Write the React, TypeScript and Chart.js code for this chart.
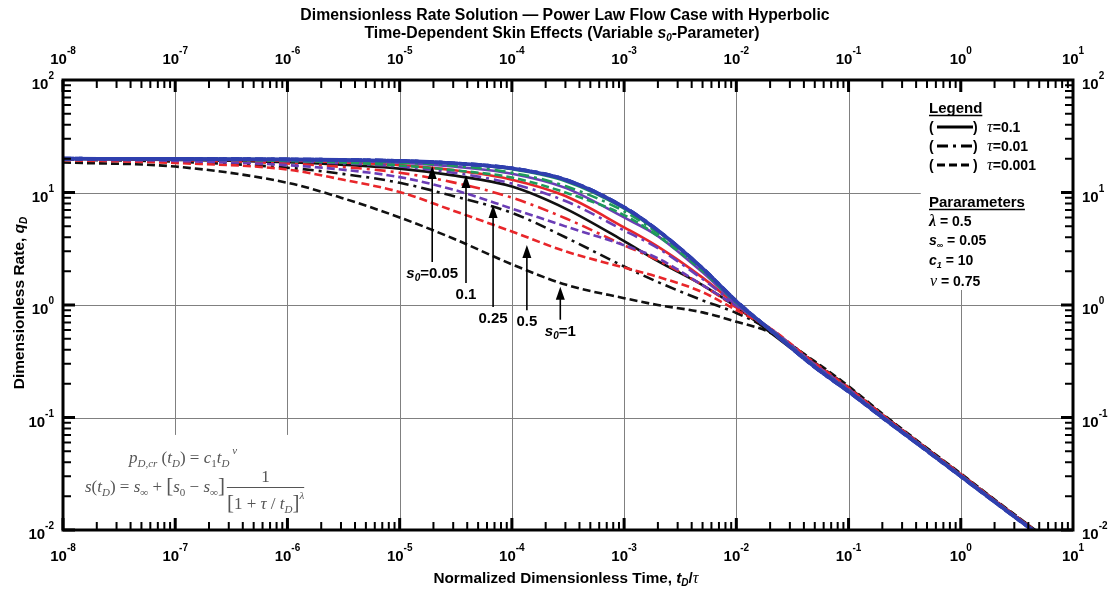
import React, { useEffect, useRef } from 'react';
import { Chart, registerables } from 'chart.js';
Chart.register(...registerables);

// ---------------- data ----------------
const times = [1e-8, 1e-7, 1e-6, 3e-6, 1e-5, 3e-5, 1e-4, 3e-4, 1e-3, 2e-3, 5e-3, 1e-2, 2e-2, 5e-2, 1e-1, 2e-1, 5e-1, 1, 2, 5];

// s0 = 0.05 (= s_inf): the three tau curves coincide
const qS005 = [20.0, 19.9, 19.7, 19.5, 19.1, 18.2, 16.4, 13.0, 7.4, 4.6, 2.12, 1.08, 0.60, 0.28, 0.170, 0.100, 0.0505, 0.0300, 0.0178, 0.0090];
// s0 = 0.1
const qS01Tau01 = [20.0, 19.9, 19.7, 19.5, 19.1, 18.1, 16.1, 12.6, 7.2, 4.5, 2.1, 1.07, 0.60, 0.282, 0.171, 0.1004, 0.0507, 0.0301, 0.0178, 0.0090];
const qS01Tau001 = [19.95, 19.9, 19.5, 19.1, 18.5, 17.3, 15.0, 11.4, 6.8, 4.35, 2.07, 1.06, 0.60, 0.284, 0.172, 0.1008, 0.0508, 0.0302, 0.0179, 0.0090];
const qS01Tau0001 = [19.9, 19.7, 19.1, 18.5, 17.4, 15.8, 13.6, 10.0, 6.3, 4.1, 2.0, 1.05, 0.61, 0.285, 0.173, 0.1012, 0.051, 0.0303, 0.0179, 0.0091];
// s0 = 0.25
const qS025Tau01 = [20.0, 19.9, 19.5, 19.1, 18.4, 17.0, 14.7, 11.0, 6.0, 4.1, 1.95, 1.03, 0.60, 0.285, 0.173, 0.1012, 0.051, 0.0303, 0.0179, 0.0091];
const qS025Tau001 = [19.9, 19.8, 19.0, 18.2, 17.0, 15.0, 12.0, 8.4, 4.6, 3.2, 1.7, 1.0, 0.61, 0.29, 0.176, 0.1024, 0.0514, 0.0305, 0.0181, 0.0091];
const qS025Tau0001 = [19.7, 19.1, 17.5, 16.0, 13.7, 10.6, 7.2, 5.0, 3.4, 2.6, 1.5, 0.98, 0.62, 0.296, 0.179, 0.1036, 0.0519, 0.0308, 0.0182, 0.0092];
// s0 = 0.5
const qS05Tau01 = [20.0, 19.7, 19.2, 18.6, 17.5, 15.8, 13.0, 9.3, 4.9, 3.3, 1.75, 1.0, 0.60, 0.29, 0.176, 0.1024, 0.0514, 0.0305, 0.0181, 0.0091];
const qS05Tau001 = [19.8, 19.4, 18.1, 16.9, 15.0, 12.3, 9.0, 5.9, 3.4, 2.5, 1.5, 0.95, 0.62, 0.298, 0.18, 0.104, 0.052, 0.0309, 0.0183, 0.0092];
const qS05Tau0001 = [19.4, 18.3, 16.0, 13.1, 10.1, 6.9, 4.5, 3.0, 2.15, 1.78, 1.3, 0.9, 0.62, 0.305, 0.184, 0.1056, 0.0526, 0.0313, 0.0184, 0.0093];
// s0 = 1
const qS1Tau01 = [19.9, 19.5, 18.6, 17.7, 16.3, 14.2, 11.3, 7.2, 3.7, 2.45, 1.5, 0.96, 0.57, 0.287, 0.174, 0.1016, 0.0511, 0.0304, 0.018, 0.0091];
const qS1Tau001 = [19.6, 18.8, 16.6, 14.7, 12.2, 9.3, 6.6, 4.0, 2.2, 1.6, 1.1, 0.85, 0.6, 0.308, 0.186, 0.1064, 0.0529, 0.0314, 0.0185, 0.0093];
const qS1Tau0001 = [18.5, 17.0, 12.2, 9.0, 6.0, 3.9, 2.3, 1.52, 1.15, 1.0, 0.86, 0.71, 0.57, 0.315, 0.19, 0.108, 0.0535, 0.0318, 0.0187, 0.0094];

const xDecades = [-8, -7, -6, -5, -4, -3, -2, -1, 0, 1];
const yDecades = [-2, -1, 0, 1, 2];

const tauLabels = ['0.1', '0.01', '0.001'];
const paramLines = ['0.5', '0.05', '10', '0.75'];

// s0 annotation arrows (x, tip value, base value)
const arrowLabels = ['0.05', '0.1', '0.25', '0.5', '1'];
const arrowX = [1.95e-5, 3.9e-5, 6.8e-5, 1.36e-4, 2.7e-4];
const arrowTip = [17.2, 14.3, 7.74, 3.41, 1.45];
const arrowBase = [2.41, 1.57, 0.96, 0.9, 0.74];

// ---------------- styles ----------------
const SANS = '"Liberation Sans", Arial, Helvetica, sans-serif';
const SERIF = '"Liberation Serif", "DejaVu Serif", "Times New Roman", serif';
const COLORS = { blue: '#2f3fae', green: '#1e9a5a', purple: '#6a3db6', red: '#e8262a', black: '#111111' };
const DASHES: number[][] = [[], [11, 5, 3, 5], [8, 4]];

type Run = { t: string; font: string; dy?: number; color?: string };

function runsWidth(ctx: CanvasRenderingContext2D, runs: Run[]) {
  let w = 0;
  for (const r of runs) { ctx.font = r.font; w += ctx.measureText(r.t).width; }
  return w;
}
function drawRuns(ctx: CanvasRenderingContext2D, runs: Run[], x: number, y: number, align: 'left' | 'center' | 'right' = 'left', color = '#000') {
  ctx.save();
  ctx.textBaseline = 'alphabetic';
  ctx.textAlign = 'left';
  const total = runsWidth(ctx, runs);
  let cx = align === 'left' ? x : align === 'center' ? x - total / 2 : x - total;
  for (const r of runs) {
    ctx.font = r.font;
    ctx.fillStyle = r.color || color;
    ctx.fillText(r.t, cx, y + (r.dy || 0));
    cx += ctx.measureText(r.t).width;
  }
  ctx.restore();
  return total;
}

const B14 = `bold 14px ${SANS}`;
const BI14 = `bold italic 14px ${SANS}`;
const BI9 = `bold italic 9px ${SANS}`;
const B15 = `bold 15px ${SANS}`;
const BI15 = `bold italic 15px ${SANS}`;
const BI10 = `bold italic 10px ${SANS}`;
const T16 = `bold 15.8px ${SANS}`;
const TI16 = `bold italic 15.8px ${SANS}`;

function pow10(exp: number): Run[] {
  return [{ t: '10', font: `bold 15px ${SANS}` }, { t: String(exp), font: `bold 10px ${SANS}`, dy: -10 }];
}

const decor = {
  id: 'decor',
  beforeDatasetsDraw(chart: any) {
    const { ctx, chartArea: a, scales } = chart;
    const xs = scales.x, ys = scales.y;
    ctx.save();
    ctx.strokeStyle = '#808080';
    ctx.lineWidth = 1;
    const vGrid = [
      { v: 1e-7, to: 0.07 }, { v: 1e-6, to: 0.07 }, { v: 1e-5 }, { v: 1e-4 }, { v: 1e-3 },
      { v: 1e-2 }, { v: 1e-1 }, { v: 1, from: 1.36 },
    ];
    for (const g of vGrid as any[]) {
      const px = Math.round(xs.getPixelForValue(g.v)) + 0.5;
      const y0 = g.from ? ys.getPixelForValue(g.from) : a.top;
      const y1 = g.to ? ys.getPixelForValue(g.to) : a.bottom;
      ctx.beginPath(); ctx.moveTo(px, y0); ctx.lineTo(px, y1); ctx.stroke();
    }
    const hGrid = [{ v: 10, to: 0.44 }, { v: 1 }, { v: 0.1 }];
    for (const g of hGrid as any[]) {
      const py = Math.round(ys.getPixelForValue(g.v)) + 0.5;
      const x1 = g.to ? xs.getPixelForValue(g.to) : a.right;
      ctx.beginPath(); ctx.moveTo(a.left, py); ctx.lineTo(x1, py); ctx.stroke();
    }
    ctx.restore();
  },
  afterDatasetsDraw(chart: any) {
    const { ctx, chartArea: a, scales } = chart;
    const xs = scales.x, ys = scales.y;
    ctx.save();
    // frame
    ctx.strokeStyle = '#000';
    ctx.lineWidth = 3;
    ctx.strokeRect(a.left, a.top, a.right - a.left, a.bottom - a.top);
    // ticks
    ctx.lineCap = 'butt';
    for (let d = -8; d <= 0; d++) {
      for (let m = 1; m <= 9; m++) {
        const v = m * Math.pow(10, d);
        const px = xs.getPixelForValue(v);
        const major = m === 1;
        ctx.lineWidth = major ? 3 : 2;
        const len = major ? 12 : 8;
        ctx.beginPath();
        ctx.moveTo(px, a.bottom); ctx.lineTo(px, a.bottom - len);
        ctx.moveTo(px, a.top); ctx.lineTo(px, a.top + len);
        ctx.stroke();
      }
    }
    for (let d = -2; d <= 1; d++) {
      for (let m = 1; m <= 9; m++) {
        const v = m * Math.pow(10, d);
        const py = ys.getPixelForValue(v);
        const major = m === 1;
        ctx.lineWidth = major ? 3 : 2;
        const len = major ? 12 : 8;
        ctx.beginPath();
        ctx.moveTo(a.left, py); ctx.lineTo(a.left + len, py);
        ctx.moveTo(a.right, py); ctx.lineTo(a.right - len, py);
        ctx.stroke();
      }
    }
    // tick labels
    for (const d of xDecades) {
      const px = xs.getPixelForValue(Math.pow(10, d));
      drawRuns(ctx, pow10(d), px, 561, 'center');
      drawRuns(ctx, pow10(d), px, 64, 'center');
    }
    for (const d of yDecades) {
      const py = ys.getPixelForValue(Math.pow(10, d));
      drawRuns(ctx, pow10(d), a.left - 9, py + 9, 'right');
      drawRuns(ctx, pow10(d), a.right + 9, py + 9, 'left');
    }
    // title
    drawRuns(ctx, [{ t: 'Dimensionless Rate Solution \u2014 Power Law Flow Case with Hyperbolic', font: T16 }], 565, 20, 'center');
    drawRuns(ctx, [
      { t: 'Time-Dependent Skin Effects (Variable ', font: T16 },
      { t: 's', font: TI16 }, { t: '0', font: BI10, dy: 3 },
      { t: '-Parameter)', font: T16 },
    ], 562, 38, 'center');
    // axis titles
    drawRuns(ctx, [
      { t: 'Normalized Dimensionless Time, ', font: `bold 15.3px ${SANS}` },
      { t: 't', font: `bold italic 15.3px ${SANS}` }, { t: 'D', font: BI10, dy: 3 },
      { t: '/', font: `bold 15.3px ${SANS}` }, { t: '\u03c4', font: `italic 16px ${SERIF}` },
    ], 566, 583, 'center');
    ctx.save();
    ctx.translate(19, 303);
    ctx.rotate(-Math.PI / 2);
    drawRuns(ctx, [
      { t: 'Dimensionless Rate, ', font: `bold 15.5px ${SANS}` },
      { t: 'q', font: `bold italic 15.5px ${SANS}` }, { t: 'D', font: BI10, dy: 3 },
    ], 0, 5, 'center');
    ctx.restore();

    // legend box
    const lx = 929;
    const H15 = `bold 15px ${SANS}`;
    let w = drawRuns(ctx, [{ t: 'Legend', font: H15 }], lx, 113);
    ctx.lineWidth = 1.5;
    ctx.beginPath(); ctx.moveTo(lx, 115.5); ctx.lineTo(lx + w, 115.5); ctx.stroke();
    tauLabels.forEach((lab, i) => {
      const yb = 132 + i * 19;
      drawRuns(ctx, [{ t: '(', font: B14 }], lx, yb);
      drawRuns(ctx, [{ t: ')', font: B14 }], lx + 44, yb);
      ctx.save();
      ctx.lineWidth = 3;
      ctx.setLineDash(DASHES[i]);
      ctx.beginPath(); ctx.moveTo(lx + 8, yb - 5); ctx.lineTo(lx + 44, yb - 5); ctx.stroke();
      ctx.restore();
      drawRuns(ctx, [{ t: '\u03c4', font: `italic 16px ${SERIF}` }, { t: '=' + lab, font: B14 }], lx + 58, yb);
    });
    w = drawRuns(ctx, [{ t: 'Pararameters', font: H15 }], lx, 207);
    ctx.beginPath(); ctx.moveTo(lx, 209.5); ctx.lineTo(lx + w, 209.5); ctx.stroke();
    drawRuns(ctx, [{ t: '\u03bb', font: `bold italic 16px ${SERIF}` }, { t: ' = ' + paramLines[0], font: B14 }], lx, 226);
    drawRuns(ctx, [{ t: 's', font: BI14 }, { t: '\u221e', font: BI9, dy: 3 }, { t: ' = ' + paramLines[1], font: B14 }], lx, 245);
    drawRuns(ctx, [{ t: 'c', font: BI14 }, { t: '1', font: BI9, dy: 3 }, { t: ' = ' + paramLines[2], font: B14 }], lx, 265);
    drawRuns(ctx, [{ t: '\u03bd', font: `italic 16px ${SERIF}` }, { t: ' = ' + paramLines[3], font: B14 }], lx + 1, 286);

    // formula box
    const G = '#555';
    const it = `italic 17px ${SERIF}`;
    const up = `17px ${SERIF}`;
    const sub = `italic 11px ${SERIF}`;
    const subUp = `11px ${SERIF}`;
    const br = `21px ${SERIF}`;
    drawRuns(ctx, [
      { t: 'p', font: it }, { t: 'D,cr', font: sub, dy: 4 }, { t: ' (', font: up }, { t: 't', font: it },
      { t: 'D', font: sub, dy: 4 }, { t: ') ', font: up }, { t: '= ', font: up }, { t: 'c', font: it },
      { t: '1', font: subUp, dy: 4 }, { t: 't', font: it }, { t: 'D', font: sub, dy: 4 }, { t: ' \u03bd', font: sub, dy: -9 },
    ], 129, 463, 'left', G);
    const lw = drawRuns(ctx, [
      { t: 's', font: it }, { t: '(', font: up }, { t: 't', font: it }, { t: 'D', font: sub, dy: 4 }, { t: ')', font: up },
      { t: ' = ', font: up }, { t: 's', font: it }, { t: '\u221e', font: sub, dy: 4 }, { t: ' + ', font: up },
      { t: '[', font: br }, { t: 's', font: it }, { t: '0', font: subUp, dy: 4 }, { t: ' \u2212 ', font: up },
      { t: 's', font: it }, { t: '\u221e', font: sub, dy: 4 }, { t: ']', font: br },
    ], 85, 492, 'left', G);
    const fx = 85 + lw + 2;
    const den: Run[] = [
      { t: '[', font: br }, { t: '1 + ', font: up }, { t: '\u03c4', font: it }, { t: ' / ', font: up },
      { t: 't', font: it }, { t: 'D', font: sub, dy: 4 }, { t: ']', font: br }, { t: '\u03bb', font: sub, dy: -10 },
    ];
    const dw = drawRuns(ctx, den, fx, 509, 'left', G);
    ctx.strokeStyle = G; ctx.lineWidth = 1;
    ctx.beginPath(); ctx.moveTo(fx, 487.5); ctx.lineTo(fx + dw, 487.5); ctx.stroke();
    drawRuns(ctx, [{ t: '1', font: up }], fx + dw / 2, 482, 'center', G);

    // arrows
    ctx.strokeStyle = '#000'; ctx.fillStyle = '#000';
    arrowLabels.forEach((lab, i) => {
      const px = xs.getPixelForValue(arrowX[i]);
      const yt = ys.getPixelForValue(arrowTip[i]);
      const yb = ys.getPixelForValue(arrowBase[i]);
      ctx.lineWidth = 1.6;
      ctx.beginPath(); ctx.moveTo(px, yb); ctx.lineTo(px, yt + 10); ctx.stroke();
      ctx.beginPath(); ctx.moveTo(px, yt); ctx.lineTo(px - 4.5, yt + 13); ctx.lineTo(px + 4.5, yt + 13); ctx.closePath(); ctx.fill();
      const runs: Run[] = (i === 0 || i === arrowLabels.length - 1)
        ? [{ t: 's', font: BI15 }, { t: '0', font: BI10, dy: 3 }, { t: '=' + lab, font: B15 }]
        : [{ t: lab, font: B15 }];
      drawRuns(ctx, runs, px, yb + 16, 'center');
    });
    ctx.restore();
  },
};

function ds(label: string, arr: number[], color: string, dashIdx: number, width = 2.6) {
  return {
    label,
    data: times.map((t, i) => ({ x: t, y: arr[i] })),
    borderColor: color,
    backgroundColor: color,
    borderWidth: width,
    borderDash: DASHES[dashIdx],
    cubicInterpolationMode: 'monotone' as const,
    pointRadius: 0,
    fill: false,
  };
}

export default function App() {
  const ref = useRef<HTMLCanvasElement>(null);
  useEffect(() => {
    document.body.style.margin = '0';
    const chart = new Chart(ref.current as HTMLCanvasElement, {
      type: 'line',
      data: {
        datasets: [
          ds('s0=0.05 tau=0.1', qS005, COLORS.blue, 0, 3.6),
          ds('s0=0.05 tau=0.01', qS005, COLORS.blue, 1, 3.6),
          ds('s0=0.05 tau=0.001', qS005, COLORS.blue, 2, 3.6),
          ds('s0=0.1 tau=0.1', qS01Tau01, COLORS.green, 0),
          ds('s0=0.1 tau=0.01', qS01Tau001, COLORS.green, 1),
          ds('s0=0.1 tau=0.001', qS01Tau0001, COLORS.green, 2),
          ds('s0=0.25 tau=0.1', qS025Tau01, COLORS.purple, 0),
          ds('s0=0.25 tau=0.01', qS025Tau001, COLORS.purple, 1),
          ds('s0=0.25 tau=0.001', qS025Tau0001, COLORS.purple, 2),
          ds('s0=0.5 tau=0.1', qS05Tau01, COLORS.red, 0),
          ds('s0=0.5 tau=0.01', qS05Tau001, COLORS.red, 1),
          ds('s0=0.5 tau=0.001', qS05Tau0001, COLORS.red, 2),
          ds('s0=1 tau=0.1', qS1Tau01, COLORS.black, 0),
          ds('s0=1 tau=0.01', qS1Tau001, COLORS.black, 1),
          ds('s0=1 tau=0.001', qS1Tau0001, COLORS.black, 2),
        ],
      },
      options: {
        responsive: false,
        animation: false,
        layout: { padding: { left: 63, right: 39, top: 80, bottom: 60 } },
        scales: {
          x: { type: 'logarithmic', min: 1e-8, max: 10, display: false },
          y: { type: 'logarithmic', min: 0.01, max: 100, display: false },
        },
        plugins: { legend: { display: false }, tooltip: { enabled: false }, title: { display: false } },
        elements: { point: { radius: 0 } },
      },
      plugins: [decor],
    });
    return () => chart.destroy();
  }, []);
  return (
    <div style={{ width: 1112, height: 590, background: '#fff' }}>
      <canvas ref={ref} width={1112} height={590} style={{ display: 'block' }} />
    </div>
  );
}
